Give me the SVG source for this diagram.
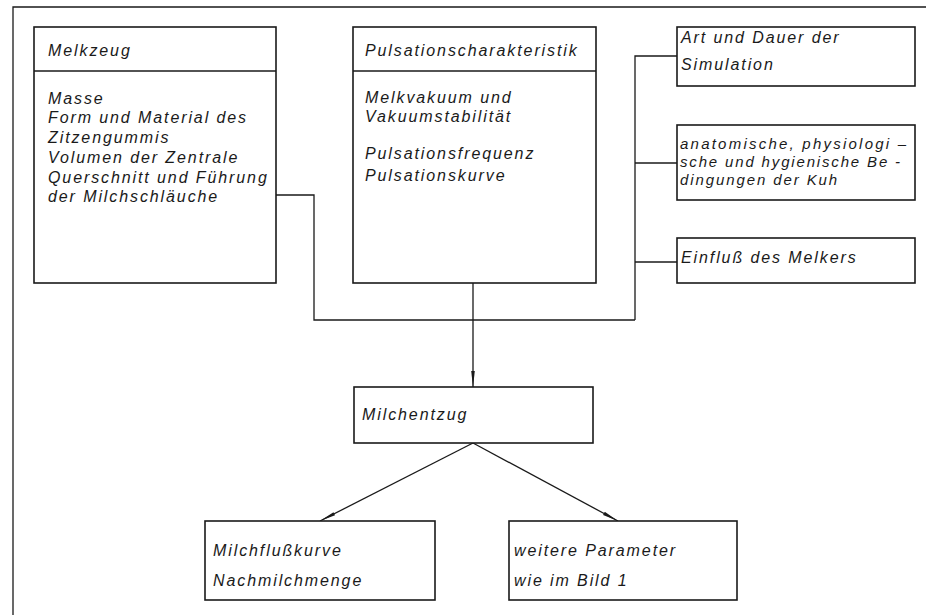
<svg xmlns="http://www.w3.org/2000/svg" width="926" height="615" viewBox="0 0 926 615">
<style>
.box{fill:#fff;stroke:#1a1a1a;stroke-width:1.6}
.ln{fill:none;stroke:#1a1a1a;stroke-width:1.3}
.t{font-family:"Liberation Sans","DejaVu Sans",sans-serif;font-style:italic;font-size:16px;letter-spacing:1.9px;fill:#1a1a1a}
.s{font-size:15px}
</style>
<defs>
<marker id="arr" viewBox="0 0 16 6" refX="16" refY="3" markerWidth="16" markerHeight="6" markerUnits="userSpaceOnUse" orient="auto">
<path d="M0,1.2 L16,3 L0,4.8 Z" fill="#1a1a1a"/>
</marker>
</defs>
<rect width="926" height="615" fill="#fff"/>
<path class="ln" d="M13,615 V7 H926"/>
<g id="connectors">
<path class="ln" d="M276,195 H314 V320 H635"/>
<path class="ln" d="M635,320 V56 H677"/>
<path class="ln" d="M635,163 H677"/>
<path class="ln" d="M635,262 H677"/>
<path class="ln" d="M473,283 V387" marker-end="url(#arr)"/>
<path class="ln" d="M473,443 L320,521" marker-end="url(#arr)"/>
<path class="ln" d="M473,443 L618,521" marker-end="url(#arr)"/>
</g>
<g id="melkzeug">
<rect class="box" x="34" y="27" width="242" height="256"/>
<line class="ln" x1="34" y1="71" x2="276" y2="71"/>
<text class="t" x="48" y="56">Melkzeug</text>
<text class="t" x="48" y="104">Masse</text>
<text class="t" x="48" y="123">Form und Material des</text>
<text class="t" x="48" y="143">Zitzengummis</text>
<text class="t" x="48" y="163">Volumen der Zentrale</text>
<text class="t" x="48" y="183">Querschnitt und Führung</text>
<text class="t" x="48" y="202">der Milchschläuche</text>
</g>
<g id="pulsation">
<rect class="box" x="353" y="27" width="243" height="256"/>
<line class="ln" x1="353" y1="71" x2="596" y2="71"/>
<text class="t" x="365" y="56">Pulsationscharakteristik</text>
<text class="t" x="365" y="103">Melkvakuum  und</text>
<text class="t" x="365" y="122">Vakuumstabilität</text>
<text class="t" x="365" y="159">Pulsationsfrequenz</text>
<text class="t" x="365" y="181">Pulsationskurve</text>
</g>
<g id="simulation">
<rect class="box" x="677" y="27" width="238" height="59"/>
<text class="t" x="681" y="43">Art und Dauer der</text>
<text class="t" x="681" y="70">Simulation</text>
</g>
<g id="kuh">
<rect class="box" x="677" y="125" width="238" height="75"/>
<text class="t s" x="680" y="149" textLength="228" lengthAdjust="spacing">anatomische, physiologi –</text>
<text class="t s" x="680" y="167" textLength="222" lengthAdjust="spacing">sche und hygienische Be -</text>
<text class="t s" x="680" y="185">dingungen der Kuh</text>
</g>
<g id="melker">
<rect class="box" x="677" y="238" width="238" height="45"/>
<text class="t" x="681" y="263">Einfluß des Melkers</text>
</g>
<g id="milchentzug">
<rect class="box" x="354" y="387" width="239" height="56"/>
<text class="t" x="362" y="420">Milchentzug</text>
</g>
<g id="milchfluss">
<rect class="box" x="205" y="521" width="230" height="79"/>
<text class="t" x="213" y="556">Milchflußkurve</text>
<text class="t" x="213" y="586">Nachmilchmenge</text>
</g>
<g id="parameter">
<rect class="box" x="509" y="521" width="228" height="79"/>
<text class="t" x="514" y="556">weitere Parameter</text>
<text class="t" x="514" y="586">wie  im Bild 1</text>
</g>
</svg>
